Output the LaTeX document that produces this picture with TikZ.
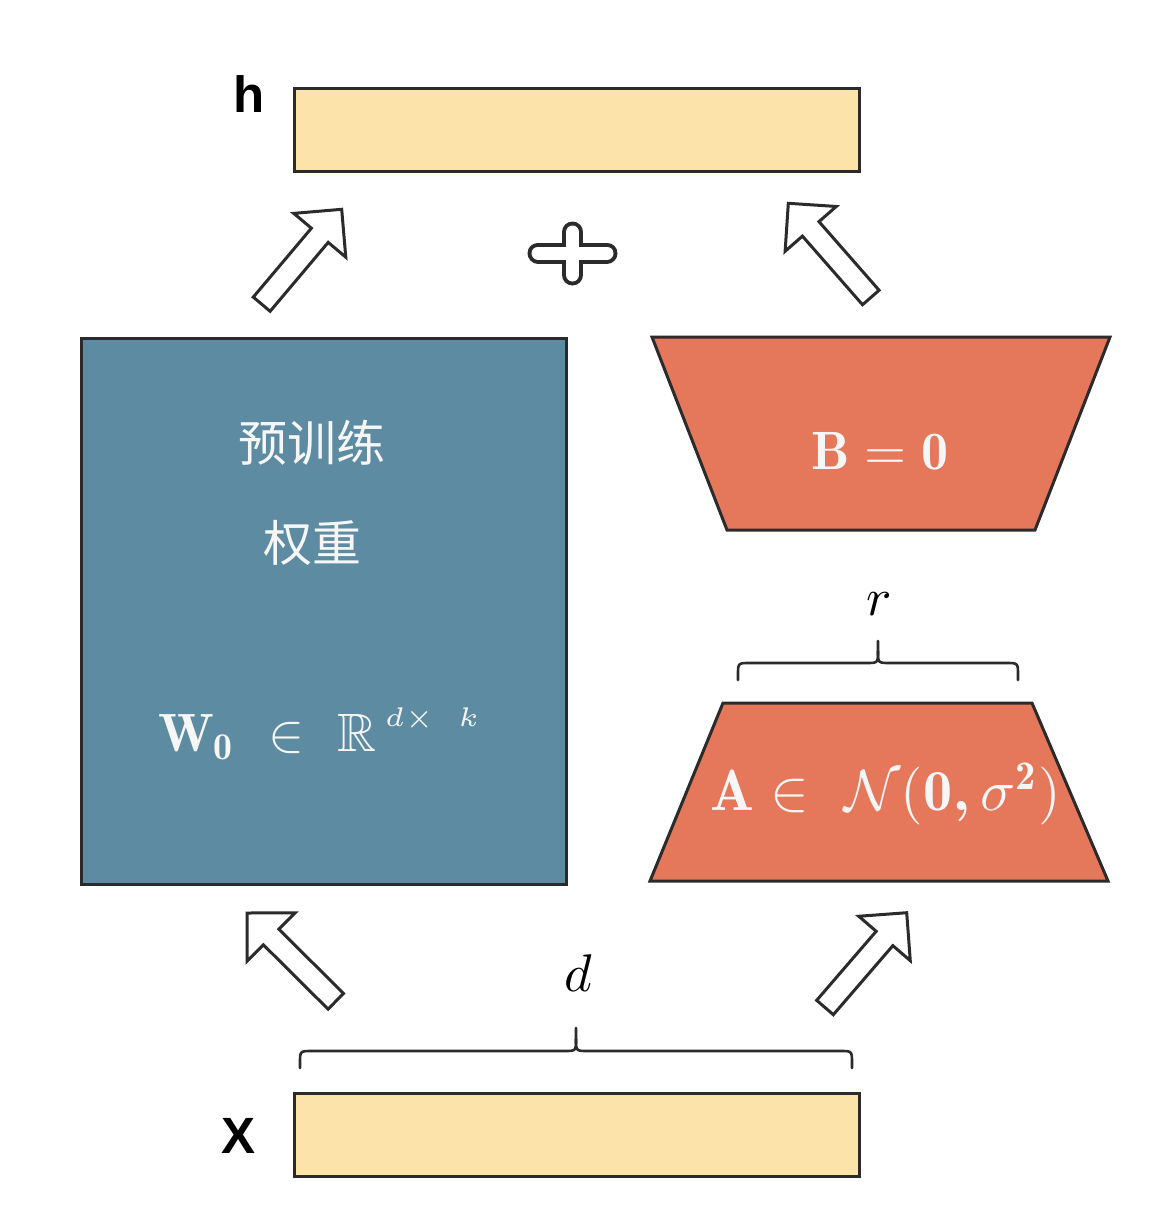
\documentclass[tikz,border=0pt]{standalone}
\usepackage{amsmath,amssymb}
\usepackage{fontspec}
\usetikzlibrary{calc}
\newfontfamily\cjkfont{Noto Sans CJK SC}
\newfontfamily\labfont{Liberation Sans}
\definecolor{boxyellow}{HTML}{FCE3AA}
\definecolor{wblue}{HTML}{5C8BA2}
\definecolor{lorange}{HTML}{E5775A}
\definecolor{edge}{HTML}{2B2B2B}
\definecolor{softwhite}{HTML}{F6F6F6}
\tikzset{
  outline/.style={draw=edge, line width=3pt, line join=miter},
  vecbox/.style={outline, fill=boxyellow, minimum width=565pt, minimum height=83pt, inner sep=0pt},
  bigbox/.style={outline, fill=wblue, minimum width=485pt, minimum height=546pt, inner sep=0pt},
  lowrank/.style={outline, fill=lorange},
  veclabel/.style={font=\labfont\bfseries\fontsize{51}{60}\selectfont, inner sep=0pt},
  cjktext/.style={font=\cjkfont\fontsize{49}{58}\selectfont, text=softwhite, inner sep=0pt},
  mathwhite/.style={text=softwhite, inner sep=0pt},
  mathblack/.style={text=black, inner sep=0pt},
  bracepath/.style={draw=edge, line width=2.6pt, line cap=round, line join=round},
  blockarr/.style={draw=edge, line width=3pt, fill=white, line join=miter},
}
\newcommand\blockarrow[3]{%
  \coordinate (#3) at ($(#2)!34pt!(#1)$);
  \draw[blockarr] ($(#1)!11pt!90:(#2)$) -- ($(#3)!11pt!90:(#2)$) -- ($(#3)!34pt!90:(#2)$)
    -- (#2) -- ($(#3)!34pt!-90:(#2)$) -- ($(#3)!11pt!-90:(#2)$) -- ($(#1)!11pt!-90:(#2)$) -- cycle;
}
\begin{document}
\begin{tikzpicture}[x=1pt,y=-1pt]
\useasboundingbox (0,0) rectangle (1160,1228);

% vectors h and x
\node[vecbox, anchor=north west] (hbox) at (293,87) {};
\node[vecbox, anchor=north west] (xbox) at (293,1092) {};
\node[veclabel, anchor=base] (hlab) at (249.5,113) {h};
\node[veclabel, anchor=base] (xlab) at (239,1153) {X};

% pretrained weights
\node[bigbox, anchor=north west] (wbox) at (80,337) {};
\node[cjktext] (w1) at (312,443) {预训练};
\node[cjktext] (w2) at (312,543) {权重};
\node[mathwhite, scale=5.4, anchor=base] (w3) at (320,751)
  {$\mathbf{W}_{\mathbf{0}}\ \in\ \mathbb{R}^{\raisebox{1pt}{$\scriptscriptstyle\hspace{1.5pt}d\times\hspace{4.5pt}k$}}$};

% B trapezoid
\coordinate (b1) at (652,337);
\coordinate (b2) at (1110,337);
\coordinate (b3) at (1035,530);
\coordinate (b4) at (727,530);
\draw[lowrank] (b1) -- (b2) -- (b3) -- (b4) -- cycle;
\node[mathwhite, scale=5.4] (btext) at (880,451) {$\mathbf{B}=\mathbf{0}$};

% A trapezoid
\coordinate (a1) at (723,703);
\coordinate (a2) at (1032,703);
\coordinate (a3) at (1108,881);
\coordinate (a4) at (650,881);
\draw[lowrank] (a1) -- (a2) -- (a3) -- (a4) -- cycle;
\node[mathwhite, scale=5.8] (atext) at (886,794)
  {$\mathbf{A}\in\ \mathcal{N}\mathbf{(0}\mbox{\bfseries,}\,\sigma^{\mathbf{2}}\mathbf{)}$};

% brace r
\draw[bracepath] (738,680) -- (738,675) .. controls (738,663) .. (750,663) -- (866,663)
  .. controls (878,663) .. (878,651) -- (878,641);
\draw[bracepath] (878,651) .. controls (878,663) .. (890,663) -- (1006,663)
  .. controls (1018,663) .. (1018,675) -- (1018,680);
\node[mathblack, scale=5.3] (rlab) at (879,604) {$r$};

% brace d
\draw[bracepath] (300,1068) -- (300,1063) .. controls (300,1051) .. (312,1051) -- (564,1051)
  .. controls (576,1051) .. (576,1039) -- (576,1028);
\draw[bracepath] (576,1039) .. controls (576,1051) .. (588,1051) -- (840,1051)
  .. controls (852,1051) .. (852,1063) -- (852,1068);
\node[mathblack, scale=5.3] (dlab) at (578,973) {$d$};

% block arrows
\coordinate (s1) at (335.8,1001.3); \coordinate (t1) at (247,913);
\coordinate (s2) at (825,1007.5);   \coordinate (t2) at (906.7,912.7);
\coordinate (s3) at (870.8,297.5);  \coordinate (t3) at (788.3,203.3);
\coordinate (s4) at (261.7,304.2);  \coordinate (t4) at (341.7,209.3);
\blockarrow{s1}{t1}{n1}
\blockarrow{s2}{t2}{n2}
\blockarrow{s3}{t3}{n3}
\blockarrow{s4}{t4}{n4}

% plus sign
\coordinate (pc) at (572.5,253);
\draw[edge, line width=21pt, line cap=round] ($(pc)+(-34.5,0)$) -- ($(pc)+(34.5,0)$)
  ($(pc)+(0,-21)$) -- ($(pc)+(0,22)$);
\draw[white, line width=13pt, line cap=round] ($(pc)+(-34.5,0)$) -- ($(pc)+(34.5,0)$)
  ($(pc)+(0,-21)$) -- ($(pc)+(0,22)$);
\end{tikzpicture}
\end{document}
